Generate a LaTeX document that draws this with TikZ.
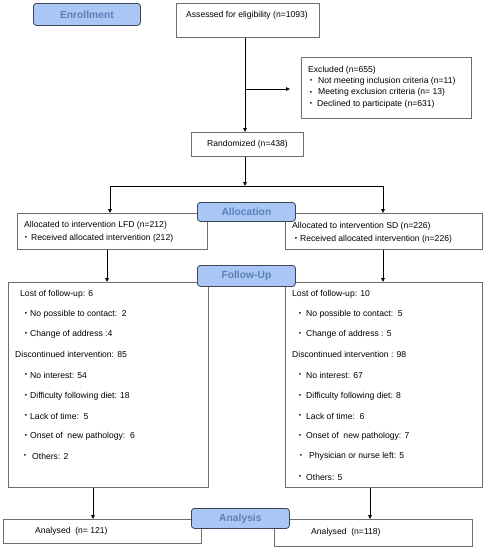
\documentclass[tikz,border=0pt]{standalone}
\usepackage{fontspec}
\setmainfont{Liberation Sans}
\usetikzlibrary{arrows.meta}
\definecolor{lblfill}{HTML}{A9C6F4}
\definecolor{lbltext}{HTML}{5B80B8}
\definecolor{lbldraw}{HTML}{3A4658}
\definecolor{boxdraw}{HTML}{6E6E6E}
\tikzset{
  x=1pt, y=-1pt,
  box/.style={draw=boxdraw, line width=0.8pt, fill=white, inner sep=0pt},
  lbl/.style={draw=lbldraw, line width=0.8pt, fill=lblfill, rounded corners=3pt, inner sep=0pt,
    text=lbltext, font=\fontsize{10.3}{11}\selectfont\bfseries},
  txt/.style={inner sep=0pt, anchor=west, font=\fontsize{8.6}{9}\selectfont},
  bul/.style={inner sep=0pt, font=\fontsize{6.5}{6.5}\selectfont},
  arr/.style={-{Triangle[length=4pt,width=3.5pt]}, line width=0.8pt, black},
  ln/.style={line width=0.8pt, black},
}
\newcommand{\bx}[5]{\node[box, anchor=north west, minimum width=#4-#2, minimum height=#5-#3] (#1) at (#2,#3) {};}
\newcommand{\lb}[6]{\node[lbl, anchor=north west, minimum width=#4-#2, minimum height=#5-#3] (#1) at (#2,#3) {#6};}
\begin{document}
\begin{tikzpicture}
\useasboundingbox[fill=white] (0,0) rectangle (486,550);
% boxes
\bx{assess}{176}{3}{319}{37}
\bx{excl}{301}{57}{471}{118}
\bx{rand}{191}{132}{303}{156}
\bx{alloL}{17}{213}{207}{249}
\bx{alloR}{285}{213}{482}{249}
\bx{fuL}{8}{282}{208}{487}
\bx{fuR}{285}{282}{482}{487}
\bx{anL}{3}{519}{201}{543}
\bx{anR}{274}{519}{472}{546}
% connectors
\coordinate (br) at (245,89);
\coordinate (brend) at (290,89);
\coordinate (spl) at (245,186);
\coordinate (splL) at (110,186);
\coordinate (splR) at (383,186);
\draw[arr] (assess.south -| spl) -- (rand.north -| spl);
\draw[arr] (br) -- (brend);
\draw[arr] (rand.south -| spl) -- (spl);
\draw[ln] (splL) -- (splR);
\draw[arr] (splL) -- (splL |- alloL.north);
\draw[arr] (splR) -- (splR |- alloR.north);
\draw[arr] (alloL.south -| 107,0) -- (fuL.north -| 107,0);
\draw[arr] (alloR.south -| 383,0) -- (fuR.north -| 383,0);
\draw[arr] (fuL.south -| 93,0) -- (anL.north -| 93,0);
\draw[arr] (fuR.south -| 370,0) -- (anR.north -| 370,0);
% labels
\lb{enr}{33}{3}{140}{25}{Enrollment}
\lb{alc}{197}{202}{295}{221}{Allocation}
\lb{fol}{197}{265}{295}{286}{Follow-Up}
\lb{ana}{191}{508}{289}{528}{Analysis}
% texts
\node[txt] (t1) at (186,15) {Assessed for eligibility (n=1093)};
\node[txt] (t2) at (308,70) {Excluded (n=655)};
\node[bul] (b2a) at (311,81) {•}; \node[txt] (t2a) at (318,81) {Not meeting inclusion criteria (n=11)};
\node[bul] (b2b) at (311,92.5) {•}; \node[txt] (t2b) at (318,92.5) {Meeting exclusion criteria (n= 13)};
\node[bul] (b2c) at (311,104) {•}; \node[txt] (t2c) at (317,104) {Declined to participate (n=631)};
\node[txt] (t3) at (207,144) {Randomized (n=438)};
\node[txt] (t4) at (24,225) {Allocated to intervention LFD (n=212)};
\node[bul] (b4a) at (26,238) {•}; \node[txt] (t4a) at (31,238) {Received allocated intervention (212)};
\node[txt] (t5) at (292,226) {Allocated to intervention SD (n=226)};
\node[bul] (b5a) at (296,239) {•}; \node[txt] (t5a) at (300,239) {Received allocated intervention (n=226)};
% follow-up LFD
\node[txt] (l1) at (20,294) {Lost of follow-up: 6};
\node[bul] (lb2) at (26,314) {•}; \node[txt] (l2) at (30,314) {No possible to contact:\ \ 2};
\node[bul] (lb3) at (26,334) {•}; \node[txt] (l3) at (30,334) {Change of address :4};
\node[txt] (l4) at (15,354) {Discontinued intervention: 85};
\node[bul] (lb5) at (26,375) {•}; \node[txt] (l5) at (30,375) {No interest: 54};
\node[bul] (lb6) at (26,396) {•}; \node[txt] (l6) at (30,396) {Difficulty following diet: 18};
\node[bul] (lb7) at (26,416) {•}; \node[txt] (l7) at (30,416) {Lack of time:\ \ 5};
\node[bul] (lb8) at (26,436) {•}; \node[txt] (l8) at (30,436) {Onset of\ \ new pathology:\ \ 6};
\node[bul] (lb9) at (25,456) {•}; \node[txt] (l9) at (32,456) {Others: 2};
% follow-up SD
\node[txt] (r1) at (292,294) {Lost of follow-up: 10};
\node[bul] (rb2) at (300,314) {•}; \node[txt] (r2) at (306,314) {No possible to contact:\ \ 5};
\node[bul] (rb3) at (300,334) {•}; \node[txt] (r3) at (306,334) {Change of address : 5};
\node[txt] (r4) at (292,354) {Discontinued intervention : 98};
\node[bul] (rb5) at (300,375) {•}; \node[txt] (r5) at (306,375) {No interest: 67};
\node[bul] (rb6) at (300,396) {•}; \node[txt] (r6) at (306,396) {Difficulty following diet: 8};
\node[bul] (rb7) at (300,416) {•}; \node[txt] (r7) at (306,416) {Lack of time:\ \ 6};
\node[bul] (rb8) at (300,436) {•}; \node[txt] (r8) at (306,436) {Onset of\ \ new pathology: 7};
\node[bul] (rb9) at (301,456) {•}; \node[txt] (r9) at (309,456) {Physician or nurse left: 5};
\node[bul] (rb10) at (300,477) {•}; \node[txt] (r10) at (306,477) {Others: 5};
% analysed
\node[txt] (a1) at (35,531) {Analysed\ \ (n= 121)};
\node[txt] (a2) at (311,532) {Analysed\ \ (n=118)};
\end{tikzpicture}
\end{document}
